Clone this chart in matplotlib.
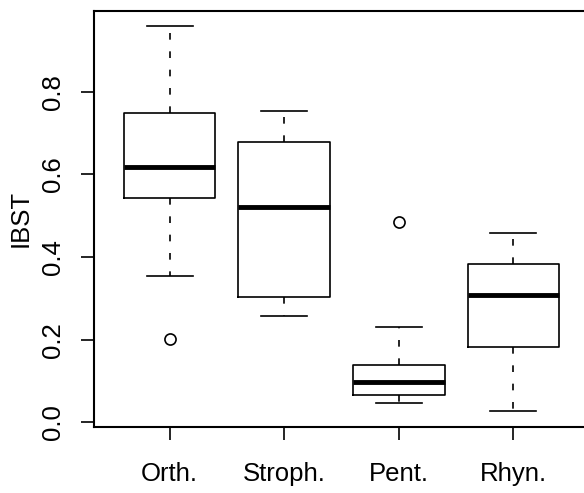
import matplotlib
matplotlib.use("Agg")
import matplotlib.pyplot as plt

plt.rcParams['font.family'] = ['Liberation Sans', 'DejaVu Sans']

groups = ["Orth.", "Stroph.", "Pent.", "Rhyn."]
whislo = [0.354, 0.256, 0.047, 0.027]
q1 = [0.542, 0.302, 0.065, 0.181]
med = [0.618, 0.521, 0.097, 0.308]
q3 = [0.748, 0.679, 0.138, 0.382]
whishi = [0.958, 0.753, 0.230, 0.459]
outliers = [[0.201], [], [0.485], []]

stats = []
for i, g in enumerate(groups):
    stats.append(dict(label=g, whislo=whislo[i], q1=q1[i], med=med[i],
                      q3=q3[i], whishi=whishi[i], fliers=outliers[i]))

fig = plt.figure(figsize=(5.84, 4.93), dpi=100)
ax = fig.add_axes([94 / 584, 66.3 / 493, 495 / 584, 415.7 / 493])

ax.bxp(stats, positions=[1, 2, 3, 4], widths=0.8, capwidths=0.4,
       boxprops=dict(color='black', linewidth=1.2),
       whiskerprops=dict(color='black', linewidth=1.2, linestyle=(0, (4, 7))),
       capprops=dict(color='black', linewidth=1.2),
       medianprops=dict(color='black', linewidth=3.5, solid_capstyle='butt'),
       flierprops=dict(marker='o', markerfacecolor='none', markeredgecolor='black',
                       markersize=8, markeredgewidth=1.2))

ax.set_xlim(0.34, 4.66)
ax.set_ylim(-0.0106, 0.995)
ax.set_yticks([0.0, 0.2, 0.4, 0.6, 0.8])
ax.set_yticklabels(["0.0", "0.2", "0.4", "0.6", "0.8"], rotation=90, va='center')
ax.set_xticks([1, 2, 3, 4])
ax.set_xticklabels(groups)
ax.tick_params(axis='both', direction='out', length=9.5, width=1.2, labelsize=18.5)
ax.tick_params(axis='x', pad=16)
ax.tick_params(axis='y', pad=11.5)
ax.set_ylabel("IBST", fontsize=18.5, labelpad=6)
for s in ax.spines.values():
    s.set_linewidth(1.5)

fig.savefig("out.png", dpi=100)
